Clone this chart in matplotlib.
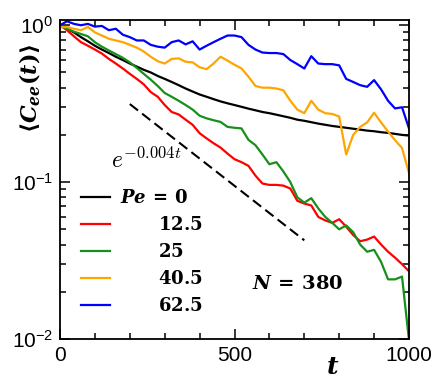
import numpy as np
import matplotlib
matplotlib.use("Agg")
import matplotlib.pyplot as plt
from matplotlib.ticker import LogLocator, MultipleLocator, NullFormatter, FixedLocator

plt.rcParams['font.family'] = ['Liberation Sans', 'DejaVu Sans']
plt.rcParams['mathtext.fontset'] = 'custom'
plt.rcParams['mathtext.it'] = 'DejaVu Serif:italic:bold'
plt.rcParams['mathtext.rm'] = 'DejaVu Serif:bold'
plt.rcParams['mathtext.bf'] = 'DejaVu Serif:bold'

t = np.arange(0, 1001, 20)

pe_labels = ["Pe = 0", "12.5", "25", "40.5", "62.5"]

c_pe0 = [1.0, 0.95, 0.90, 0.84, 0.79, 0.74, 0.70, 0.665, 0.63, 0.60, 0.57,
         0.545, 0.52, 0.50, 0.475, 0.455, 0.435, 0.415, 0.395, 0.378, 0.362,
         0.350, 0.338, 0.327, 0.318, 0.310, 0.302, 0.294, 0.287, 0.280, 0.275,
         0.269, 0.263, 0.257, 0.250, 0.246, 0.241, 0.236, 0.232, 0.228, 0.225,
         0.222, 0.219, 0.216, 0.213, 0.211, 0.208, 0.206, 0.203, 0.200, 0.198]

c_pe12 = [1.0, 0.93, 0.85, 0.78, 0.74, 0.70, 0.66, 0.61, 0.57, 0.53, 0.49,
          0.455, 0.42, 0.375, 0.35, 0.31, 0.28, 0.27, 0.25, 0.232, 0.205,
          0.19, 0.177, 0.166, 0.152, 0.140, 0.134, 0.127, 0.11, 0.098, 0.096,
          0.096, 0.095, 0.091, 0.076, 0.073, 0.071, 0.060, 0.057, 0.055, 0.058,
          0.052, 0.046, 0.042, 0.043, 0.045, 0.040, 0.036, 0.033, 0.030, 0.027]

c_pe25 = [1.0, 0.95, 0.91, 0.88, 0.85, 0.78, 0.73, 0.69, 0.655, 0.62, 0.58,
          0.535, 0.49, 0.45, 0.41, 0.37, 0.35, 0.33, 0.31, 0.29, 0.265,
          0.255, 0.248, 0.242, 0.225, 0.222, 0.22, 0.186, 0.172, 0.15, 0.13,
          0.134, 0.117, 0.10, 0.08, 0.074, 0.079, 0.068, 0.060, 0.055, 0.050,
          0.053, 0.048, 0.040, 0.036, 0.037, 0.031, 0.024, 0.024, 0.025, 0.0098]

c_pe40 = [0.97, 0.975, 0.95, 0.93, 0.975, 0.90, 0.86, 0.82, 0.80, 0.78, 0.75,
          0.72, 0.68, 0.63, 0.59, 0.57, 0.61, 0.615, 0.585, 0.58, 0.54,
          0.525, 0.57, 0.63, 0.595, 0.56, 0.53, 0.47, 0.41, 0.40, 0.40,
          0.395, 0.385, 0.33, 0.29, 0.275, 0.33, 0.29, 0.275, 0.272, 0.262,
          0.15, 0.20, 0.225, 0.24, 0.277, 0.24, 0.21, 0.185, 0.165, 0.114]

c_pe62 = [1.0, 1.06, 1.02, 1.0, 1.02, 0.98, 0.99, 0.93, 0.95, 0.87, 0.84,
          0.80, 0.80, 0.75, 0.73, 0.72, 0.78, 0.80, 0.755, 0.79, 0.70,
          0.74, 0.78, 0.82, 0.86, 0.86, 0.84, 0.75, 0.70, 0.67, 0.665,
          0.665, 0.655, 0.60, 0.565, 0.53, 0.635, 0.57, 0.565, 0.565, 0.555,
          0.455, 0.435, 0.415, 0.405, 0.447, 0.39, 0.33, 0.295, 0.30, 0.22]

series = [c_pe0, c_pe12, c_pe25, c_pe40, c_pe62]
colors = ['black', '#ff0000', '#16901a', '#ffa500', '#0000ff']

fit_t = [200, 700]
fit_rate = 0.004
fit_amp = 0.70

fig = plt.figure(figsize=(4.47, 3.82), dpi=100)
ax = fig.add_axes([60/447, 43/382, 349/447, 319/382])

handles = []
for ys, c in zip(series, colors):
    h, = ax.plot(t, ys, color=c, lw=1.6)
    handles.append(h)

ft = np.array(fit_t)
ax.plot(ft, fit_amp * np.exp(-fit_rate * ft), color='black', lw=1.5,
        ls=(0, (5, 2.5)))

ax.set_yscale('log')
ax.set_xlim(0, 1000)
ax.set_ylim(0.01, 1.08)

ax.xaxis.set_major_locator(FixedLocator([0, 500, 1000]))
ax.xaxis.set_minor_locator(MultipleLocator(100))
ax.yaxis.set_major_locator(LogLocator(base=10, numticks=10))
ax.yaxis.set_minor_locator(LogLocator(base=10, subs=np.arange(2, 10), numticks=10))
ax.yaxis.set_minor_formatter(NullFormatter())

ax.tick_params(which='both', direction='in', top=True, right=True, width=1.1)
ax.tick_params(which='major', length=7, labelsize=15, pad=5)
ax.tick_params(which='minor', length=4)
for s in ax.spines.values():
    s.set_linewidth(1.3)

ax.set_ylabel(r'$\langle C_{ee}(t)\rangle$', fontsize=16)
ax.yaxis.set_label_coords(-0.05, 0.785)
ax.set_xlabel(r'$t$', fontsize=18)
ax.xaxis.set_label_coords(0.78, -0.05)

labels = [r'$Pe\,=\,0$'] + [r'$\qquad %s$' % s for s in pe_labels[1:]]
ax.legend(handles, labels, loc='upper left', bbox_to_anchor=(0.0, 0.535),
          frameon=False, fontsize=13, handlelength=1.6, handletextpad=0.55,
          labelspacing=0.5, borderaxespad=0.75)

ax.text(146, 0.123, r'$e^{-0.004t}$', fontsize=17, math_fontfamily='cm',
        ha='left', va='baseline')
ax.text(0.55, 0.158, r'$N\,=\,380$', transform=ax.transAxes, fontsize=14,
        ha='left', va='baseline')

fig.savefig('out.png', dpi=100)
